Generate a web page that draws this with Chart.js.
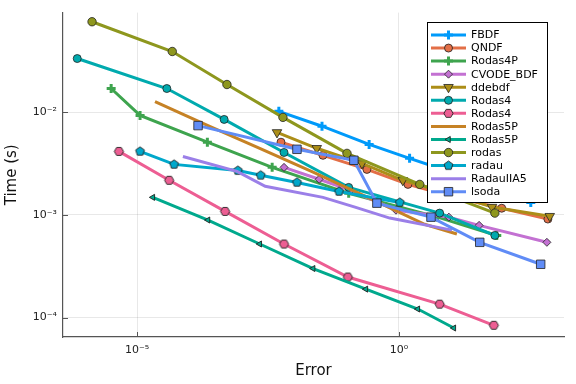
<!DOCTYPE html>
<html lang="en">
<head>
    <meta charset="UTF-8">
    <title>Work-precision</title>
    <style>
        html, body { margin: 0; padding: 0; background: #fff; }
        #wrap { width: 576px; height: 384px; }
    </style>
</head>
<body>
<div id="wrap">
    <canvas id="wpChart" width="576" height="384"></canvas>
</div>

<script src="https://cdn.jsdelivr.net/npm/chart.js"></script>

<script>
    // series names, in legend order
    const names = ["FBDF", "QNDF", "Rodas4P", "CVODE_BDF", "ddebdf", "Rodas4", "Rodas4",
        "Rodas5P", "Rodas5P", "rodas", "radau", "RadauIIA5", "lsoda"];

    // error (x) and time (y)
    const fbdfErr = [5.1e-3, 3.4e-2, 0.27, 1.6, 10, 60, 330];
    const fbdfTime = [1.02e-2, 7.3e-3, 4.85e-3, 3.55e-3, 2.6e-3, 1.85e-3, 1.32e-3];
    const qndfErr = [5.6e-3, 3.55e-2, 0.245, 1.49, 11.7, 92, 700];
    const qndfTime = [5.1e-3, 3.8e-3, 2.77e-3, 1.98e-3, 1.48e-3, 1.16e-3, 9.1e-4];
    const rodas4pErr = [3.2e-6, 1.14e-5, 2.2e-4, 3.8e-3, 0.11, 5.5, 74];
    const rodas4pTime = [1.7e-2, 9.3e-3, 5.1e-3, 2.9e-3, 1.62e-3, 9.5e-4, 6.3e-4];
    const cvodeErr = [6.4e-3, 3.0e-2, 0.12, 0.88, 9.0, 34, 670];
    const cvodeTime = [2.9e-3, 2.22e-3, 1.73e-3, 1.11e-3, 9.5e-4, 7.9e-4, 5.4e-4];
    const ddebdfErr = [4.7e-3, 2.7e-2, 0.197, 1.19, 9.4, 60, 760];
    const ddebdfTime = [6.35e-3, 4.45e-3, 3.17e-3, 2.17e-3, 1.62e-3, 1.19e-3, 9.7e-4];
    const rodas4Err = [7.2e-7, 3.7e-5, 4.6e-4, 6.4e-3, 0.11, 6.0, 68];
    const rodas4Time = [3.33e-2, 1.7e-2, 8.5e-3, 4.05e-3, 1.85e-3, 1.04e-3, 6.3e-4];
    const rodas4bErr = [4.5e-6, 4.1e-5, 4.8e-4, 6.4e-3, 0.106, 6.0, 65];
    const rodas4bTime = [4.15e-3, 2.17e-3, 1.08e-3, 5.2e-4, 2.48e-4, 1.35e-4, 8.4e-5];
    const rodas5pErr = [2.2e-5, 2.26e-4, 2.2e-3, 2.3e-2, 0.3, 3.1, 12.8];
    const rodas5pTime = [1.27e-2, 7.4e-3, 4.45e-3, 2.6e-3, 1.42e-3, 8.1e-4, 6.5e-4];
    const rodas5pbErr = [2.0e-5, 2.26e-4, 2.2e-3, 2.3e-2, 0.234, 2.3, 11.2];
    const rodas5pbTime = [1.48e-3, 8.9e-4, 5.2e-4, 3.0e-4, 1.89e-4, 1.21e-4, 7.9e-5];
    const rodasErr = [1.38e-6, 4.7e-5, 5.2e-4, 6.1e-3, 0.102, 2.5, 68];
    const rodasTime = [7.6e-2, 3.9e-2, 1.86e-2, 8.9e-3, 3.97e-3, 1.98e-3, 1.04e-3];
    const radauErr = [1.14e-5, 5.1e-5, 8.4e-4, 2.3e-3, 1.13e-2, 7.2e-2, 1.04];
    const radauTime = [4.15e-3, 3.1e-3, 2.7e-3, 2.43e-3, 2.07e-3, 1.69e-3, 1.32e-3];
    const radau5Err = [7.5e-5, 8.1e-4, 2.8e-3, 3.55e-2, 0.145, 0.67, 10.3];
    const radau5Time = [3.7e-3, 2.65e-3, 1.9e-3, 1.48e-3, 1.19e-3, 9.3e-4, 7.1e-4];
    const lsodaErr = [1.46e-4, 1.13e-2, 0.138, 0.38, 4.1, 35, 510];
    const lsodaTime = [7.4e-3, 4.35e-3, 3.4e-3, 1.3e-3, 9.5e-4, 5.4e-4, 3.3e-4];

    const errs = [fbdfErr, qndfErr, rodas4pErr, cvodeErr, ddebdfErr, rodas4Err, rodas4bErr,
        rodas5pErr, rodas5pbErr, rodasErr, radauErr, radau5Err, lsodaErr];
    const times = [fbdfTime, qndfTime, rodas4pTime, cvodeTime, ddebdfTime, rodas4Time, rodas4bTime,
        rodas5pTime, rodas5pbTime, rodasTime, radauTime, radau5Time, lsodaTime];

    // tick positions and labels
    const xTicks = [1e-5, 1];
    const xTickLabels = ["10\u207B\u2075", "10\u2070"];
    const yTicks = [1e-4, 1e-3, 1e-2];
    const yTickLabels = ["10\u207B\u2074", "10\u207B\u00B3", "10\u207B\u00B2"];

    const colors = ["#009AFA", "#E36F47", "#3EA44E", "#C371D2", "#AC8E18", "#00AAAE", "#ED5E93",
        "#C68225", "#00A98D", "#8E971E", "#00A8CB", "#9B7FE8", "#608CF6"];

    // polygon marker images (hexagon / pentagon) since chart.js has none
    function polyMarker(sides, r, fill, rot) {
        const c = document.createElement('canvas');
        const s = Math.ceil(r * 2 + 3);
        c.width = s; c.height = s;
        const g = c.getContext('2d');
        g.beginPath();
        for (let k = 0; k < sides; k++) {
            const a = rot + k * 2 * Math.PI / sides;
            const px = s / 2 + r * Math.cos(a), py = s / 2 + r * Math.sin(a);
            if (k === 0) g.moveTo(px, py); else g.lineTo(px, py);
        }
        g.closePath();
        g.fillStyle = fill;
        g.fill();
        g.lineWidth = 0.9;
        g.strokeStyle = '#222';
        g.stroke();
        return c;
    }

    // marker style per series
    const markers = [
        {style: 'cross', radius: 4.5, rot: 0, bw: 3, own: true},
        {style: 'circle', radius: 4, rot: 0, bw: 0.8},
        {style: 'cross', radius: 4.5, rot: 0, bw: 3, own: true},
        {style: 'rectRot', radius: 4, rot: 0, bw: 0.8},
        {style: 'triangle', radius: 5.5, rot: 180, bw: 0.8},
        {style: 'circle', radius: 4, rot: 0, bw: 0.8},
        {style: polyMarker(6, 4.6, colors[6], 0), radius: 4.6, rot: 0, bw: 0},
        {style: 'circle', radius: 0, rot: 0, bw: 0},
        {style: 'triangle', radius: 3.5, rot: -90, bw: 0.9},
        {style: 'circle', radius: 4.2, rot: 0, bw: 0.8},
        {style: polyMarker(5, 4.6, colors[10], -Math.PI / 2), radius: 4.6, rot: 0, bw: 0},
        {style: 'circle', radius: 0, rot: 0, bw: 0},
        {style: 'rect', radius: 6, rot: 0, bw: 0.8}
    ];

    const datasets = names.map((n, i) => ({
        label: n,
        data: errs[i].map((e, j) => ({x: e, y: times[i][j]})),
        borderColor: colors[i],
        backgroundColor: colors[i],
        borderWidth: 3,
        showLine: true,
        tension: 0,
        pointStyle: markers[i].style,
        pointRotation: markers[i].rot,
        pointRadius: markers[i].radius,
        pointBorderWidth: markers[i].bw,
        pointBorderColor: markers[i].own ? colors[i] : '#222',
        pointBackgroundColor: colors[i],
        order: names.length - i
    }));

    // inward tick marks like the original
    const innerTicks = {
        id: 'innerTicks',
        afterDatasetsDraw(chart) {
            const {ctx, chartArea, scales} = chart;
            ctx.save();
            ctx.strokeStyle = '#555';
            ctx.lineWidth = 1;
            ctx.beginPath();
            xTicks.forEach(v => {
                const px = Math.round(scales.x.getPixelForValue(v)) + 0.5;
                ctx.moveTo(px, chartArea.bottom);
                ctx.lineTo(px, chartArea.bottom - 5);
            });
            yTicks.forEach(v => {
                const py = Math.round(scales.y.getPixelForValue(v)) + 0.5;
                ctx.moveTo(chartArea.left, py);
                ctx.lineTo(chartArea.left + 5, py);
            });
            ctx.stroke();
            ctx.restore();
        }
    };

    // legend box inside the plot, line + marker per entry
    const boxLegend = {
        id: 'boxLegend',
        afterDraw(chart) {
            const ctx = chart.ctx;
            const bx = 427.5, by = 22.5, bw = 120, bh = 180, row = 13.06;
            ctx.save();
            ctx.fillStyle = '#fff';
            ctx.fillRect(bx, by, bw, bh);
            ctx.strokeStyle = '#000';
            ctx.lineWidth = 1;
            ctx.strokeRect(bx, by, bw, bh);
            ctx.font = '11px "DejaVu Sans"';
            ctx.textBaseline = 'middle';
            names.forEach((n, i) => {
                const y = by + 12.5 + i * row;
                ctx.strokeStyle = colors[i];
                ctx.lineWidth = 3;
                ctx.beginPath();
                ctx.moveTo(431, y);
                ctx.lineTo(466, y);
                ctx.stroke();
                const m = markers[i];
                if (m.radius > 0 && Chart.helpers && Chart.helpers.drawPoint) {
                    ctx.fillStyle = colors[i];
                    ctx.strokeStyle = m.own ? colors[i] : '#222';
                    ctx.lineWidth = m.bw;
                    Chart.helpers.drawPoint(ctx, {
                        pointStyle: m.style, rotation: m.rot, radius: m.radius, borderWidth: m.bw
                    }, 448.5, y);
                }
                ctx.fillStyle = '#000';
                ctx.fillText(n, 471, y + 0.5);
            });
            ctx.restore();
        }
    };

    const ctxWp = document.getElementById('wpChart');
    const wpChart = new Chart(ctxWp, {
        type: 'scatter',
        data: {datasets: datasets},
        options: {
            responsive: false,
            animation: false,
            devicePixelRatio: 1,
            layout: {padding: {left: 0, right: 12, top: 12, bottom: 0}},
            plugins: {legend: {display: false}, tooltip: {enabled: false}},
            scales: {
                x: {
                    type: 'logarithmic',
                    min: 3.85e-7,
                    max: 1422,
                    afterBuildTicks: s => { s.ticks = xTicks.map(v => ({value: v})); },
                    afterFit: s => { s.height = 47; },
                    ticks: {
                        autoSkip: false, maxRotation: 0, padding: 7, color: '#222',
                        font: {family: 'DejaVu Sans', size: 11},
                        callback: (v, i) => xTickLabels[i]
                    },
                    grid: {color: 'rgba(0,0,0,0.09)', lineWidth: 1, drawTicks: false},
                    border: {display: true, color: '#555', width: 1.2},
                    title: {
                        display: true, text: 'Error', color: '#111',
                        font: {family: 'DejaVu Sans', size: 15}, padding: {top: 4, bottom: 4}
                    }
                },
                y: {
                    type: 'logarithmic',
                    min: 6.46e-5,
                    max: 0.0933,
                    afterBuildTicks: s => { s.ticks = yTicks.map(v => ({value: v})); },
                    afterFit: s => { s.width = 63; },
                    ticks: {
                        autoSkip: false, padding: 6, color: '#222',
                        font: {family: 'DejaVu Sans', size: 11},
                        callback: (v, i) => yTickLabels[i]
                    },
                    grid: {color: 'rgba(0,0,0,0.09)', lineWidth: 1, drawTicks: false},
                    border: {display: true, color: '#555', width: 1.2},
                    title: {
                        display: true, text: 'Time (s)', color: '#111',
                        font: {family: 'DejaVu Sans', size: 15}, padding: {top: 3, bottom: 3}
                    }
                }
            }
        },
        plugins: [innerTicks, boxLegend]
    });
</script>

</body>
</html>
